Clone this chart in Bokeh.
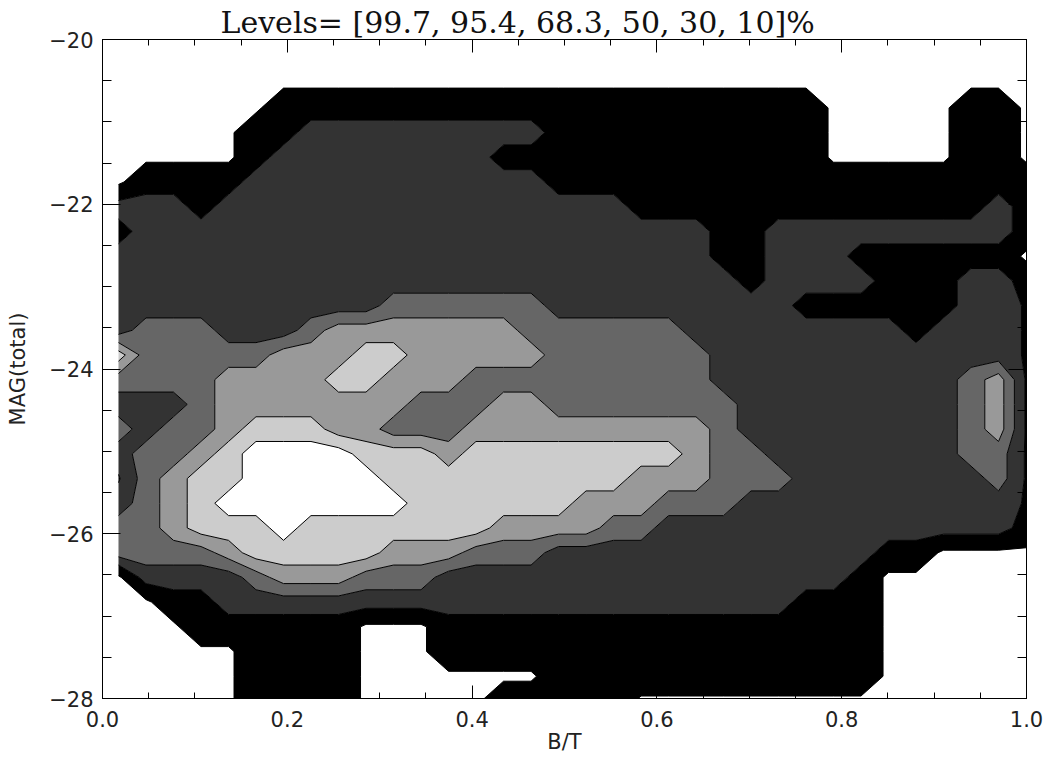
import numpy as np
from bokeh.plotting import figure
from bokeh.models import Range1d, LinearAxis, FixedTicker
from bokeh.embed import file_html
from bokeh.resources import INLINE

TITLE = "Levels= [99.7, 95.4, 68.3, 50, 30, 10]%"
X_LABEL = "B/T"
Y_LABEL = "MAG(total)"

X_TICKS = [0.0, 0.2, 0.4, 0.6, 0.8, 1.0]
X_TICK_LABELS = ["0.0", "0.2", "0.4", "0.6", "0.8", "1.0"]
X_MINOR = [round(0.05 * i, 2) for i in range(21)]
Y_TICKS = [-28, -26, -24, -22, -20]
Y_TICK_LABELS = ["\u221228", "\u221226", "\u221224", "\u221222", "\u221220"]
Y_MINOR = [-28 + 0.5 * i for i in range(17)]

# contour levels (in band-index units) and the grey fills between them
BAND_LEVELS = [0.2, 1.5, 2.5, 3.5, 4.5, 5.5]
BAND_FILLS = ["#000000", "#333333", "#666666", "#999999", "#cccccc"]

# grid nodes of the density map
BT_NODES = list(np.round(np.linspace(0.0173, 0.9995, 34), 4))
MAG_NODES = [round(-20.53 - 0.3 * j, 2) for j in range(26)]   # top (-20.53) to bottom (-28.03)

# band read at every grid node (rows: MAG_NODES, columns: BT_NODES)
BAND_CODE = {"0": 0.0, "1": 1.0, "2": 2.0, "3": 3.0, "4": 4.0, "5": 5.0, "6": 6.0, "k": 1.4}
DENSITY_ROWS = [
    "0000000000000000000000000000000000",
    "0000001111111111111111111100000110",
    "0000011222222222111111111100000110",
    "0000012222222211111111111100000110",
    "0111122222222222111111111111111111",
    "2221222222222222222111111111111121",
    "1222222222222222222222112222222221",
    "2222222222222222222222112221111110",
    "2222222222222222222222212222111221",
    "222222222233333322222222211111122k",
    "233322234444444333333222222221222k",
    "533333444554444433333322222222222k",
    "333344445544433333333322222222234k",
    "222344444443334433333332222222234k",
    "323345554433344444444432222222234k",
    "233456666555455555555433222222233k",
    "k34556666655555555544433322222223k",
    "234566666665555554443332222222222k",
    "3345556555555544443322222222222221",
    "3333455555444333222222222222110000",
    "0222234443332222222222222221000000",
    "0011222222222222222222222111000000",
    "0001111110001111111111111111000000",
    "0000011110001111111111111111000000",
    "0000011110000000111111111111000000",
    "0000011110000011111000000000000000",
]

z = np.array([[BAND_CODE[c] for c in row] for row in DENSITY_ROWS], dtype=float)[::-1]
mag_asc = np.array(MAG_NODES, dtype=float)[::-1]
bt = np.array(BT_NODES, dtype=float)

TICK_FONT = "DejaVu Sans"
FS = "21px"

p = figure(width=1043, height=759, x_range=Range1d(0, 1), y_range=Range1d(-28, -20),
           output_backend="svg", toolbar_location=None,
           min_border_left=102, min_border_right=17, min_border_top=39, min_border_bottom=61,
           x_axis_label=X_LABEL, y_axis_label=Y_LABEL, title=TITLE)

p.grid.visible = False
p.background_fill_color = "white"
p.border_fill_color = "white"
p.outline_line_color = "black"
p.outline_line_width = 1

p.title.text_font = "DejaVu Serif"
p.title.text_font_size = "30px"
p.title.text_font_style = "normal"
p.title.text_color = "#111111"
p.title.align = "left"
p.title.offset = 118
p.title.standoff = 0

p.contour(x=bt, y=mag_asc, z=z, levels=BAND_LEVELS, fill_color=BAND_FILLS,
          line_color="black", line_width=1)

xt = FixedTicker(ticks=X_TICKS, minor_ticks=X_MINOR)
yt = FixedTicker(ticks=Y_TICKS, minor_ticks=Y_MINOR)

def style(ax, ticker, major_in, minor_in, labels=None):
    ax.ticker = ticker
    ax.major_tick_in = major_in
    ax.major_tick_out = 0
    ax.minor_tick_in = minor_in
    ax.minor_tick_out = 0
    ax.axis_line_color = "black"
    ax.major_tick_line_color = "black"
    ax.minor_tick_line_color = "black"
    if labels is not None:
        ax.major_label_overrides = labels
        ax.major_label_text_font = TICK_FONT
        ax.major_label_text_font_size = FS
        ax.major_label_text_color = "#222222"
        ax.axis_label_text_font = TICK_FONT
        ax.axis_label_text_font_size = FS
        ax.axis_label_text_font_style = "normal"
        ax.axis_label_text_color = "#222222"
    else:
        ax.major_label_text_color = None
        ax.major_label_text_font_size = "1px"
        ax.major_label_standoff = 0
        ax.axis_label = None

xax = p.xaxis[0]
style(xax, xt, 13, 6, {t: l for t, l in zip(X_TICKS, X_TICK_LABELS)})
xax.major_label_standoff = 12
xax.axis_label_standoff = 0

yax = p.yaxis[0]
style(yax, yt, 18, 9, {t: l for t, l in zip(Y_TICKS, Y_TICK_LABELS)})
yax.major_label_standoff = 9
yax.axis_label_standoff = 16

top = LinearAxis()
style(top, xt, 13, 6)
p.add_layout(top, "above")
right = LinearAxis()
style(right, yt, 18, 9)
p.add_layout(right, "right")

open("out.html", "w").write(file_html(p, INLINE))
